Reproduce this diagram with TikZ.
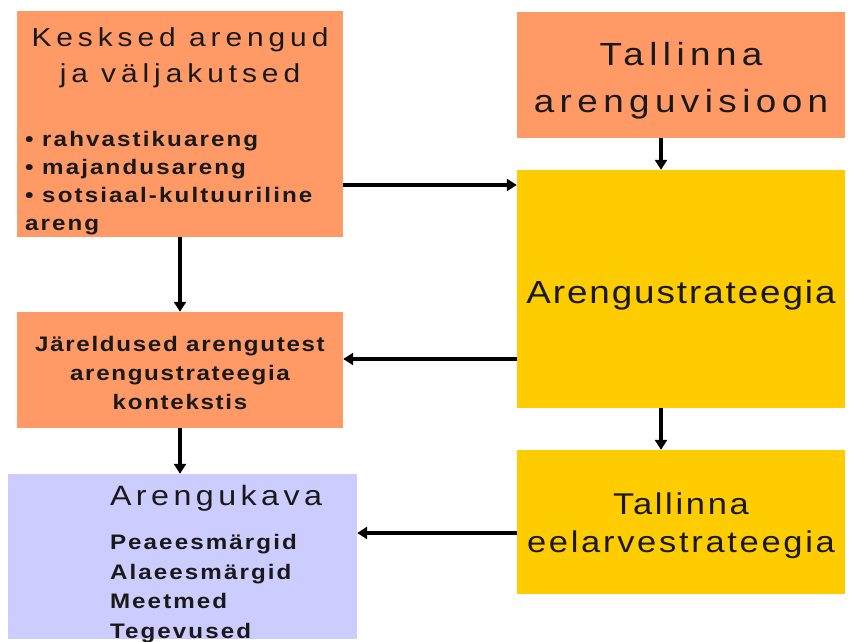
\documentclass[tikz,border=0pt]{standalone}
\usepackage{fontspec}
\setmainfont{Liberation Sans}[FakeStretch=1.15]
\usetikzlibrary{arrows.meta,positioning}

\definecolor{boxorange}{HTML}{FF9966}
\definecolor{boxyellow}{HTML}{FFCC00}
\definecolor{boxlilac}{HTML}{CCCCFF}

\newcommand{\spc}[1]{\addfontfeatures{LetterSpace=#1}}
\newcommand{\vlift}[1]{\rule{0pt}{#1}}

\begin{document}
\begin{tikzpicture}[x=1pt, y=1pt, >={Triangle[length=10pt,width=12pt]},
    box/.style={inner sep=0pt, text=black!90},
    obox/.style={box, fill=boxorange},
    ybox/.style={box, fill=boxyellow},
    lbox/.style={box, fill=boxlilac},
    arr/.style={->, line width=3.2pt}]
    \useasboundingbox (0,0) rectangle (853,641);

    % Left column
    \node[obox, minimum width=326pt, minimum height=226pt] (kesksed) at (180,517)
        {\parbox[c][226pt][t]{310pt}{\parskip=0pt
            \centering\fontsize{26}{36}\selectfont\spc{19}\vlift{36pt}Kesksed arengud\\ja väljakutsed\par
            \vspace{36pt}
            \raggedright\fontsize{21}{28}\selectfont\bfseries\spc{10}• rahvastikuareng\\• majandusareng\\• sotsiaal-kultuuriline\\areng\par}};
    \node[obox, minimum width=326pt, minimum height=116pt, align=center,
        font=\fontsize{21}{29}\selectfont\bfseries\spc{8}] (jareldused) at (180,271)
        {\vlift{22pt}Järeldused arengutest\\arengustrateegia\\kontekstis};
    \node[lbox, minimum width=349pt, minimum height=165pt] (arengukava) at (182.5,84.5)
        {\parbox[c][165pt][t]{349pt}{\parskip=0pt
            \raggedright\leftskip=102pt
            \fontsize{28}{30}\selectfont\spc{16}\vlift{31pt}Arengukava\par
            \vspace{15pt}
            \fontsize{21}{29.5}\selectfont\bfseries\spc{10}Peaeesmärgid\\Alaeesmärgid\\Meetmed\\Tegevused\par}};

    % Right column
    \node[obox, minimum width=328pt, minimum height=126pt, align=center,
        font=\fontsize{32}{47}\selectfont\spc{17}] (visioon) at (681,566)
        {\vlift{34pt}Tallinna\\arenguvisioon};
    \node[ybox, minimum width=328pt, minimum height=238pt,
        font=\fontsize{32}{38}\selectfont\spc{6}] (strateegia) at (681,352)
        {\vlift{35pt}Arengustrateegia};
    \node[ybox, minimum width=328pt, minimum height=144pt, align=center,
        font=\fontsize{30}{38}\selectfont\spc{9}] (eelarve) at (681,119)
        {\vlift{30pt}Tallinna\\eelarvestrateegia};

    % Arrows
    \draw[arr] ([yshift=-61pt]kesksed.east) -- ([yshift=-61pt]kesksed.east -| strateegia.west);
    \draw[arr] ([xshift=-20pt]visioon.south) -- ([xshift=-20pt]visioon.south |- strateegia.north);
    \draw[arr] (kesksed.south) -- (jareldused.north);
    \draw[arr] ([yshift=-70pt]strateegia.west) -- ([yshift=-70pt]strateegia.west -| jareldused.east);
    \draw[arr] (jareldused.south) -- (jareldused.south |- arengukava.north);
    \draw[arr] ([xshift=-20pt]strateegia.south) -- ([xshift=-20pt]strateegia.south |- eelarve.north);
    \draw[arr] ([yshift=-11pt]eelarve.west) -- ([yshift=-11pt]eelarve.west -| arengukava.east);
\end{tikzpicture}
\end{document}
